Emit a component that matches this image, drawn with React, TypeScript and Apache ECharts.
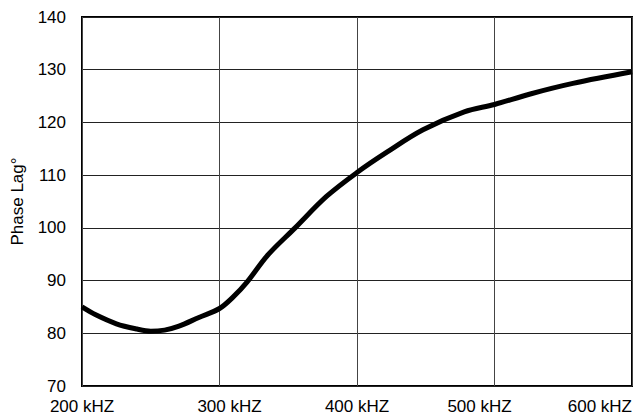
import React, { useEffect, useRef } from "react";
import * as echarts from "echarts";

const freqKHz = [200, 210, 225, 240, 250, 260, 270, 285, 300, 310, 320, 335, 355, 378, 400, 422, 448, 478, 500, 526, 557, 600];
const phaseLag = [85.0, 83.5, 81.8, 80.8, 80.4, 80.6, 81.3, 83.0, 84.7, 86.9, 89.7, 94.8, 100.0, 106.0, 110.5, 114.4, 118.6, 122.0, 123.4, 125.4, 127.4, 129.6];
const yAxisTitle = "Phase Lag°";
const xUnit = "kHZ";

export default function App() {
  const ref = useRef<HTMLDivElement>(null);
  useEffect(() => {
    if (!ref.current) return;
    document.body.style.margin = "0";
    document.body.style.overflow = "hidden";
    const chart = echarts.init(ref.current, null, { renderer: "svg" });
    const font = "'Liberation Sans', Arial, sans-serif";
    chart.setOption({
      animation: false,
      backgroundColor: "#fff",
      grid: {
        left: 82,
        right: 6,
        top: 17,
        bottom: 31,
        show: true,
        borderColor: "#000",
        borderWidth: 2,
        backgroundColor: "transparent",
      },
      xAxis: {
        type: "value",
        min: 200,
        max: 600,
        interval: 100,
        axisLine: { show: false },
        axisTick: { show: false },
        splitLine: { show: true, lineStyle: { color: "#444", width: 1 } },
        axisLabel: {
          color: "#000",
          fontFamily: font,
          fontSize: 17,
          margin: 12,
          alignMaxLabel: "right",
          formatter: (v: number) => {
            const t = `${v} ${xUnit}`;
            if (v === 300) return `{r|${t}}`;
            if (v === 500) return `{l|${t}}`;
            return t;
          },
          rich: {
            r: { fontFamily: font, fontSize: 17, color: "#000", padding: [0, 0, 0, 20] },
            l: { fontFamily: font, fontSize: 17, color: "#000", padding: [0, 30, 0, 0] },
          },
        },
      },
      yAxis: {
        type: "value",
        min: 70,
        max: 140,
        interval: 10,
        name: yAxisTitle,
        nameLocation: "middle",
        nameRotate: 90,
        nameGap: 56,
        nameTextStyle: { color: "#000", fontFamily: font, fontSize: 17 },
        axisLine: { show: false },
        axisTick: { show: false },
        splitLine: { show: true, lineStyle: { color: "#222", width: 1 } },
        axisLabel: { color: "#000", fontFamily: font, fontSize: 17, margin: 16 },
      },
      series: [
        {
          type: "line",
          data: freqKHz.map((f, i) => [f, phaseLag[i]]),
          showSymbol: false,
          smooth: 0.35,
          lineStyle: { color: "#000", width: 5 },
          clip: false,
        },
      ],
    });
    return () => chart.dispose();
  }, []);
  return (
    <div
      ref={ref}
      style={{ position: "absolute", left: 0, top: 0, width: 638, height: 417 }}
    />
  );
}
